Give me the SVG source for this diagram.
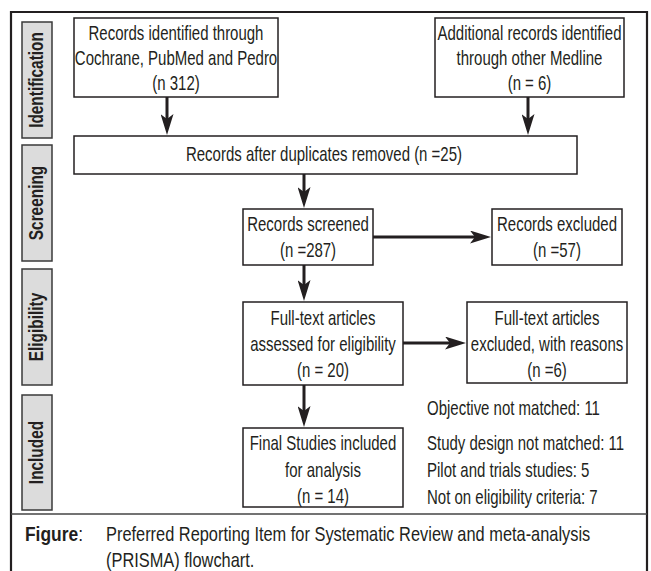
<svg xmlns="http://www.w3.org/2000/svg" width="651" height="571" viewBox="0 0 651 571">
<defs>
<style>
.t{font-family:"Liberation Sans",Arial,sans-serif;font-size:20px;fill:#231f20;text-anchor:middle}
.l{text-anchor:start}
.b{font-weight:bold}
.box{fill:#fff;stroke:#231f20;stroke-width:1.5}
.side{fill:#dcdcdc;stroke:#3a3a3a;stroke-width:1.5}
.con{stroke:#231f20;stroke-width:3;fill:none;marker-end:url(#ah)}
</style>
<marker id="ah" viewBox="0 0 21 13" refX="11" refY="6.5" markerWidth="21" markerHeight="13" markerUnits="userSpaceOnUse" orient="auto">
<path d="M0,0 L21,6.5 L0,13 L5,6.5 Z" fill="#231f20"/>
</marker>
</defs>
<rect width="651" height="571" fill="#fff"/>
<path d="M11,571 V12 H647 V571" fill="none" stroke="#231f20" stroke-width="2.2"/>
<line x1="11" y1="514" x2="647" y2="514" stroke="#444" stroke-width="1.5"/>

<g id="stage-identification">
<rect class="side" x="22" y="22" width="30" height="116"/>
<text class="t b" transform="translate(43,80) rotate(-90) scale(0.77,1)">Identification</text>
</g>
<g id="stage-screening">
<rect class="side" x="22" y="145" width="30" height="116"/>
<text class="t b" transform="translate(43,203) rotate(-90) scale(0.77,1)">Screening</text>
</g>
<g id="stage-eligibility">
<rect class="side" x="22" y="269" width="30" height="116"/>
<text class="t b" transform="translate(43,327) rotate(-90) scale(0.77,1)">Eligibility</text>
</g>
<g id="stage-included">
<rect class="side" x="22" y="395" width="30" height="115"/>
<text class="t b" transform="translate(43,452.5) rotate(-90) scale(0.77,1)">Included</text>
</g>

<g id="connectors">
<line class="con" x1="167" y1="97" x2="167" y2="125"/>
<line class="con" x1="528" y1="97" x2="528" y2="125"/>
<line class="con" x1="304" y1="174" x2="304" y2="198"/>
<line class="con" x1="373" y1="237" x2="481" y2="237"/>
<line class="con" x1="304" y1="265" x2="304" y2="291"/>
<line class="con" x1="403" y1="343" x2="456" y2="343"/>
<line class="con" x1="304" y1="385" x2="304" y2="417"/>
</g>

<g id="records-identified">
<rect class="box" x="74" y="18" width="204" height="79"/>
<text class="t" transform="translate(176,39.5) scale(0.75,1)">Records identified through</text>
<text class="t" transform="translate(176,65) scale(0.75,1)">Cochrane, PubMed and Pedro</text>
<text class="t" transform="translate(176,90) scale(0.75,1)">(n 312)</text>
</g>
<g id="additional-records">
<rect class="box" x="435" y="18" width="189" height="79"/>
<text class="t" transform="translate(529.5,39.5) scale(0.75,1)">Additional records identified</text>
<text class="t" transform="translate(529.5,65) scale(0.75,1)">through other Medline</text>
<text class="t" transform="translate(529.5,90) scale(0.75,1)">(n = 6)</text>
</g>
<g id="duplicates-removed">
<rect class="box" x="74" y="136" width="503" height="38"/>
<text class="t" transform="translate(324,160.5) scale(0.75,1)">Records after duplicates removed  (n =25)</text>
</g>
<g id="records-screened">
<rect class="box" x="243" y="209" width="130" height="56"/>
<text class="t" transform="translate(308,230.5) scale(0.75,1)">Records screened</text>
<text class="t" transform="translate(308,256.5) scale(0.75,1)">(n =287)</text>
</g>
<g id="records-excluded">
<rect class="box" x="492" y="209" width="130" height="56"/>
<text class="t" transform="translate(557,230.5) scale(0.75,1)">Records excluded</text>
<text class="t" transform="translate(557,256.5) scale(0.75,1)">(n =57)</text>
</g>
<g id="fulltext-assessed">
<rect class="box" x="243" y="302" width="160" height="83"/>
<text class="t" transform="translate(323,324.5) scale(0.75,1)">Full-text articles</text>
<text class="t" transform="translate(323,350.5) scale(0.75,1)">assessed for eligibility</text>
<text class="t" transform="translate(323,376.5) scale(0.75,1)">(n = 20)</text>
</g>
<g id="fulltext-excluded">
<rect class="box" x="467" y="302" width="160" height="81"/>
<text class="t" transform="translate(547,324.5) scale(0.75,1)">Full-text articles</text>
<text class="t" transform="translate(547,350.5) scale(0.75,1)">excluded, with reasons</text>
<text class="t" transform="translate(547,376.5) scale(0.75,1)">(n =6)</text>
</g>
<g id="final-studies">
<rect class="box" x="243" y="428" width="160" height="79"/>
<text class="t" transform="translate(323,449.5) scale(0.75,1)">Final Studies included</text>
<text class="t" transform="translate(323,476.5) scale(0.75,1)">for analysis</text>
<text class="t" transform="translate(323,502.5) scale(0.75,1)">(n = 14)</text>
</g>
<g id="exclusion-reasons">
<text class="t l" transform="translate(427,414.5) scale(0.75,1)">Objective not matched: 11</text>
<text class="t l" transform="translate(427,449.5) scale(0.75,1)">Study design not matched: 11</text>
<text class="t l" transform="translate(427,476.5) scale(0.75,1)">Pilot and trials studies: 5</text>
<text class="t l" transform="translate(427,503.5) scale(0.75,1)">Not on eligibility criteria: 7</text>
</g>
<g id="caption">
<text class="t l" transform="translate(25,541) scale(0.87,1)"><tspan class="b">Figure</tspan>:</text>
<text class="t l" transform="translate(106,541) scale(0.82,1)">Preferred Reporting Item for Systematic Review and meta-analysis</text>
<text class="t l" transform="translate(106,567) scale(0.82,1)">(PRISMA) flowchart.</text>
</g>
</svg>
